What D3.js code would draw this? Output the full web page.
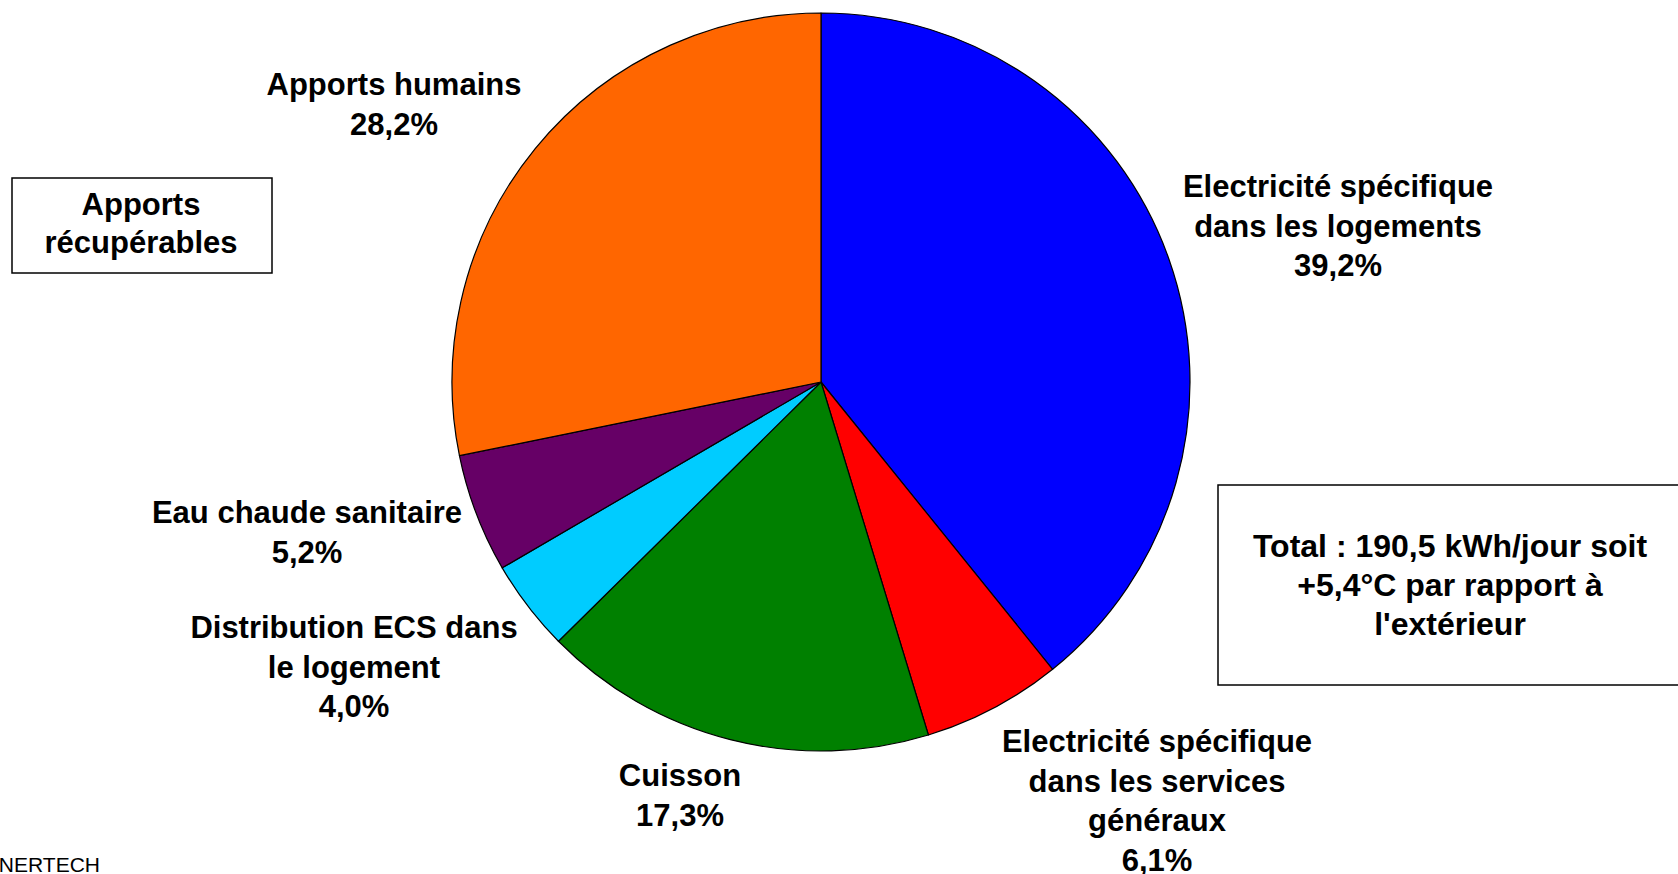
<!DOCTYPE html>
<html>
<head>
<meta charset="utf-8">
<script src="https://cdn.jsdelivr.net/npm/d3@7"></script>
<style>
  body { margin: 0; background: #fff; }
  text { font-family: "Liberation Sans", Arial, sans-serif; fill: #000; }
  .lbl { font-size: 31px; font-weight: bold; }
</style>
</head>
<body>
<div id="chart"></div>
<script>
//data (clockwise from 12 o'clock)
var categories = [
  ["Electricité spécifique", "dans les logements"],
  ["Electricité spécifique", "dans les services", "généraux"],
  ["Cuisson"],
  ["Distribution ECS dans", "le logement"],
  ["Eau chaude sanitaire"],
  ["Apports humains"]
];
var values = [39.2, 6.1, 17.3, 4.0, 5.2, 28.2];
var colors = ["#0000ff", "#ff0000", "#008000", "#00ccff", "#660066", "#ff6600"];

//label anchors: centre x, first baseline
var labelPos = [[1338, 197], [1157, 752], [680, 786], [354, 638], [307, 523], [394, 95]];

var boxText = ["Apports", "récupérables"];
var totalText = ["Total : 190,5 kWh/jour soit", "+5,4°C par rapport à", "l'extérieur"];
var sourceText = "ENERTECH";

var width = 1678;
var height = 874;
var cx = 821, cy = 382, radius = 369;
var lineH = 39.5;

var fr = d3.formatLocale({decimal: ",", thousands: " ", grouping: [3], currency: ["", "€"]});
var pct = fr.format(".1f");

var svg = d3.select("#chart")
.append("svg")
.attr("width", width)
.attr("height", height);

//pie
var pie = d3.pie().sort(null).value(function(d) { return d; });
var arc = d3.arc().innerRadius(0).outerRadius(radius);

var g = svg.append("g")
.attr("transform", "translate(" + cx + "," + cy + ")");

g.selectAll("path")
.data(pie(values))
.enter()
.append("path")
.attr("d", arc)
.attr("fill", function(d, i) { return colors[i]; })
.attr("stroke", "#000")
.attr("stroke-width", 1.2)
.attr("stroke-linejoin", "round");

//slice labels
var labels = svg.selectAll("text.lbl")
.data(values)
.enter()
.append("text")
.attr("class", "lbl")
.attr("text-anchor", "middle");

labels.each(function(v, i) {
  var lines = categories[i].concat([pct(v) + "%"]);
  d3.select(this).selectAll("tspan")
  .data(lines)
  .enter()
  .append("tspan")
  .attr("x", labelPos[i][0])
  .attr("y", function(d, j) { return labelPos[i][1] + j * lineH; })
  .text(function(d) { return d; });
});

//"Apports récupérables" box
svg.append("rect")
.attr("x", 12).attr("y", 178)
.attr("width", 260).attr("height", 95)
.attr("fill", "#fff")
.attr("stroke", "#000")
.attr("stroke-width", 1.5);

svg.append("g").selectAll("text")
.data(boxText)
.enter()
.append("text")
.attr("class", "lbl")
.attr("text-anchor", "middle")
.attr("x", 141)
.attr("y", function(d, i) { return 215 + i * 38; })
.text(function(d) { return d; });

//total box (cut by the right edge)
svg.append("rect")
.attr("x", 1218).attr("y", 485)
.attr("width", 480).attr("height", 200)
.attr("fill", "#fff")
.attr("stroke", "#000")
.attr("stroke-width", 1.5);

svg.append("g").selectAll("text")
.data(totalText)
.enter()
.append("text")
.attr("class", "lbl")
.style("font-size", "32px")
.attr("text-anchor", "middle")
.attr("x", 1450)
.attr("y", function(d, i) { return 557 + i * 39; })
.text(function(d) { return d; });

//source, cut by the left edge
svg.append("text")
.attr("x", 100)
.attr("y", 872)
.attr("text-anchor", "end")
.style("font-size", "21px")
.text(sourceText);
</script>
</body>
</html>
